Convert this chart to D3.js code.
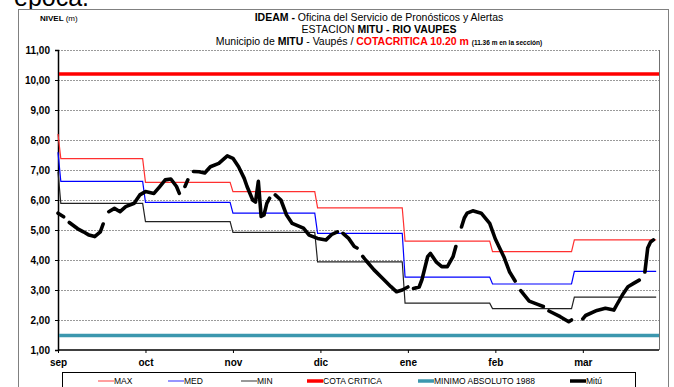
<!DOCTYPE html>
<html>
<head>
<meta charset="utf-8">
<script src="https://cdn.jsdelivr.net/npm/d3@7"></script>
<style>
  html, body { margin: 0; padding: 0; background: #fff; }
  svg { display: block; }
  text { font-family: "Liberation Sans", Arial, sans-serif; }
  .narrow { font-family: "Liberation Sans Narrow", "Arial Narrow", "Liberation Sans", Arial, sans-serif; }
</style>
</head>
<body>
<script>
// Month tick labels (hydrological season Sep-Mar)
const monthLabels = ["sep", "oct", "nov", "dic", "ene", "feb", "mar"];
const monthTickDays = [0, 31, 62, 93, 124, 155, 186];
const monthLengths = [30, 31, 30, 31, 31, 29, 31];
const totalDays = 213;

// Historical monthly statistics (m); the first value is the preceding month
const maxStart = 8.20, medStart = 7.59, minStart = 6.94;
const maxMonthly = [7.38, 6.59, 6.28, 5.74, 4.63, 4.28, 4.67];
const medMonthly = [6.62, 5.92, 5.56, 4.89, 3.43, 3.20, 3.62];
const minMonthly = [5.89, 5.28, 4.92, 3.94, 2.56, 2.38, 2.76];

// Reference levels (m)
const cotaCritica = 10.20;
const minimoAbsoluto = 1.48;

// Observed daily level at Mitú (null = missing record)
const mituDay = [0, 2, 3, 4, 7, 9, 11, 13, 15, 16, 17, 18, 20, 22, 24, 27, 29, 31, 34, 36, 38, 40, 42, 43, 44, 45, 46, 47, 48, 50, 52, 54, 57, 60, 62, 64, 66, 67, 69, 70, 71, 72, 73, 74, 75, 76, 77, 79, 81, 83, 87, 89, 92, 95, 97, 99, 100, 101, 103, 105, 106, 107, 108, 109, 112, 115, 118, 120, 122, 124, 125, 126, 128, 129, 131, 132, 134, 136, 138, 140, 141, 142, 143, 144, 145, 147, 150, 153, 155, 158, 160, 162, 163, 164, 167, 170, 172, 173, 174, 178, 181, 182, 183, 186, 187, 191, 194, 197, 198, 200, 202, 204, 206, 207, 208, 209, 210, 211];
const mituLevel = [5.56, 5.44, null, 5.25, 5.04, 4.94, 4.83, 4.78, 4.94, 5.20, null, 5.61, 5.72, 5.61, 5.78, 5.89, 6.17, 6.28, 6.22, 6.44, 6.67, 6.70, 6.45, 6.22, null, 6.45, 6.67, null, 6.95, 6.94, 6.90, 7.11, 7.22, 7.47, 7.39, 7.11, 6.72, 6.45, 6.00, 5.93, 6.62, 5.45, 5.50, 5.89, 6.06, null, 6.17, 6.00, 5.50, 5.22, 5.06, 4.83, 4.72, 4.67, 4.85, 4.94, null, 4.89, 4.72, 4.45, 4.40, null, 4.12, 4.00, 3.67, 3.39, 3.11, 2.94, 3.00, 3.10, null, 3.05, 3.10, 3.35, 4.11, 4.22, 3.94, 3.78, 3.78, 4.11, 4.45, null, 5.10, 5.40, 5.56, 5.64, 5.56, 5.22, 4.70, 4.11, 3.61, 3.30, null, 2.98, 2.63, 2.52, 2.45, null, 2.30, 2.11, 1.94, 2.00, null, 2.04, 2.15, 2.32, 2.39, 2.33, 2.50, 2.83, 3.11, 3.22, 3.33, null, 3.60, 4.40, 4.60, 4.67];

const yTicks = [1, 2, 3, 4, 5, 6, 7, 8, 9, 10, 11];

// Expand monthly statistics into a daily step series
function dailySteps(start, monthly) {
  const out = [[0, start]];
  let day = 1;
  monthly.forEach((v, m) => {
    for (let d = 0; d < monthLengths[m] && day < totalDays; d++, day++) out.push([day, v]);
  });
  return out;
}

const W = 674, H = 387;
const plot = { left: 58, right: 659, top: 50, bottom: 350 };

const x = d3.scaleLinear().domain([0, totalDays]).range([plot.left, plot.right]);
const y = d3.scaleLinear().domain([1, 11]).range([plot.bottom, plot.top]);

const svg = d3.select("body").append("svg").attr("width", W).attr("height", H);

// Text from the surrounding page
svg.append("text").attr("x", 14).attr("y", 6).attr("font-size", 25).attr("fill", "#000").text("época.");

// Chart frame
svg.append("rect").attr("x", 18.5).attr("y", 9.5).attr("width", 650).attr("height", 390)
  .attr("fill", "#fff").attr("stroke", "#808080").attr("stroke-width", 1);

// Titles
svg.append("text").attr("x", 40).attr("y", 21).attr("font-size", 8)
  .call(t => { t.append("tspan").attr("font-weight", "bold").text("NIVEL "); t.append("tspan").text("(m)"); });

const cx = 379;
svg.append("text").attr("class", "narrow").attr("x", cx).attr("y", 21).attr("text-anchor", "middle").attr("font-size", 10.5)
  .call(t => {
    t.append("tspan").attr("font-weight", "bold").text("IDEAM - ");
    t.append("tspan").text("Oficina del Servicio de Pronósticos y Alertas");
  });
svg.append("text").attr("class", "narrow").attr("x", cx).attr("y", 33).attr("text-anchor", "middle").attr("font-size", 10.5)
  .call(t => {
    t.append("tspan").text("ESTACION ");
    t.append("tspan").attr("font-weight", "bold").text("MITU - RIO VAUPES");
  });
svg.append("text").attr("class", "narrow").attr("x", cx).attr("y", 45).attr("text-anchor", "middle").attr("font-size", 10.5)
  .call(t => {
    t.append("tspan").text("Municipio de ");
    t.append("tspan").attr("font-weight", "bold").text("MITU");
    t.append("tspan").text(" - Vaupés / ");
    t.append("tspan").attr("font-weight", "bold").attr("fill", "#ff0000").text("COTACRITICA 10.20 m ");
    t.append("tspan").attr("font-weight", "bold").attr("font-size", 6.5).text("  (11.36 m  en la sección)");
  });

// Gridlines
svg.append("g").selectAll("line").data(yTicks.filter(v => v > 1)).join("line")
  .attr("x1", plot.left).attr("x2", plot.right)
  .attr("y1", d => y(d) + 0.5).attr("y2", d => y(d) + 0.5)
  .attr("stroke", "#9a9a9a").attr("stroke-width", 1).attr("stroke-dasharray", "2,1");

// Right border of the plot area
svg.append("line").attr("x1", plot.right + 0.5).attr("x2", plot.right + 0.5)
  .attr("y1", plot.top).attr("y2", plot.bottom).attr("stroke", "#707070").attr("stroke-width", 1);

// Axes
const yAxis = d3.axisLeft(y).tickValues(yTicks).tickSize(3).tickPadding(5)
  .tickFormat(d => d3.format(".2f")(d).replace(".", ","));
const gy = svg.append("g").attr("transform", `translate(${plot.left},0)`).call(yAxis);
gy.select(".domain").attr("stroke", "#000").attr("stroke-width", 1.5);
gy.selectAll(".tick line").attr("stroke", "#000");
gy.selectAll(".tick text").attr("font-size", 10).attr("font-weight", "bold").attr("fill", "#000")
  .attr("font-family", "'Liberation Sans', Arial, sans-serif");

const xAxis = d3.axisBottom(x).tickValues(monthTickDays).tickSize(3).tickPadding(6)
  .tickFormat((d, i) => monthLabels[i]);
const gx = svg.append("g").attr("transform", `translate(0,${plot.bottom})`).call(xAxis);
gx.select(".domain").attr("stroke", "#000").attr("stroke-width", 1.5).attr("d", `M${plot.left},0H${plot.right}`);
gx.selectAll(".tick line").attr("stroke", "#000");
gx.selectAll(".tick text").attr("font-size", 10).attr("font-weight", "bold").attr("fill", "#000")
  .attr("font-family", "'Liberation Sans', Arial, sans-serif");

// Reference levels
svg.append("line").attr("x1", plot.left + 1).attr("x2", plot.right).attr("y1", y(minimoAbsoluto)).attr("y2", y(minimoAbsoluto))
  .attr("stroke", "#3c97ae").attr("stroke-width", 3.5);
svg.append("line").attr("x1", plot.left + 1).attr("x2", plot.right).attr("y1", y(cotaCritica)).attr("y2", y(cotaCritica))
  .attr("stroke", "#ff0000").attr("stroke-width", 3.5);

// Monthly statistics
const line = d3.line().x(d => x(d[0])).y(d => y(d[1]));
const stats = [
  { data: dailySteps(maxStart, maxMonthly), color: "#ff3030" },
  { data: dailySteps(medStart, medMonthly), color: "#0000ff" },
  { data: dailySteps(minStart, minMonthly), color: "#222222" }
];
svg.append("g").selectAll("path").data(stats).join("path")
  .attr("d", d => line(d.data)).attr("fill", "none")
  .attr("stroke", d => d.color).attr("stroke-width", 1.2);

// Observed level
const mitu = mituDay.map((d, i) => [d, mituLevel[i]]);
svg.append("path")
  .attr("d", d3.line().defined(d => d[1] !== null).x(d => x(d[0])).y(d => y(d[1]))(mitu))
  .attr("fill", "none").attr("stroke", "#000").attr("stroke-width", 3.6)
  .attr("stroke-linejoin", "round").attr("stroke-linecap", "round");

// Legend
const legend = svg.append("g");
legend.append("rect").attr("x", 62.5).attr("y", 372.5).attr("width", 573).attr("height", 30)
  .attr("fill", "#fff").attr("stroke", "#000").attr("stroke-width", 1);
const legendItems = [
  { label: "MAX", color: "#ff6060", w: 1.2, x: 98 },
  { label: "MED", color: "#5050ff", w: 1.2, x: 168 },
  { label: "MIN", color: "#555555", w: 1.2, x: 241 },
  { label: "COTA CRITICA", color: "#ff0000", w: 3.5, x: 307 },
  { label: "MINIMO ABSOLUTO 1988", color: "#3c97ae", w: 3.5, x: 418 },
  { label: "Mitú", color: "#000", w: 3.5, x: 570 }
];
const li = legend.selectAll("g.item").data(legendItems).join("g").attr("class", "item");
li.append("line").attr("x1", d => d.x).attr("x2", d => d.x + 16).attr("y1", 381).attr("y2", 381)
  .attr("stroke", d => d.color).attr("stroke-width", d => d.w);
li.append("text").attr("class", "narrow").attr("x", d => d.x + 16).attr("y", 384).attr("font-size", 8.5)
  .attr("fill", "#000").text(d => d.label);
</script>
</body>
</html>
